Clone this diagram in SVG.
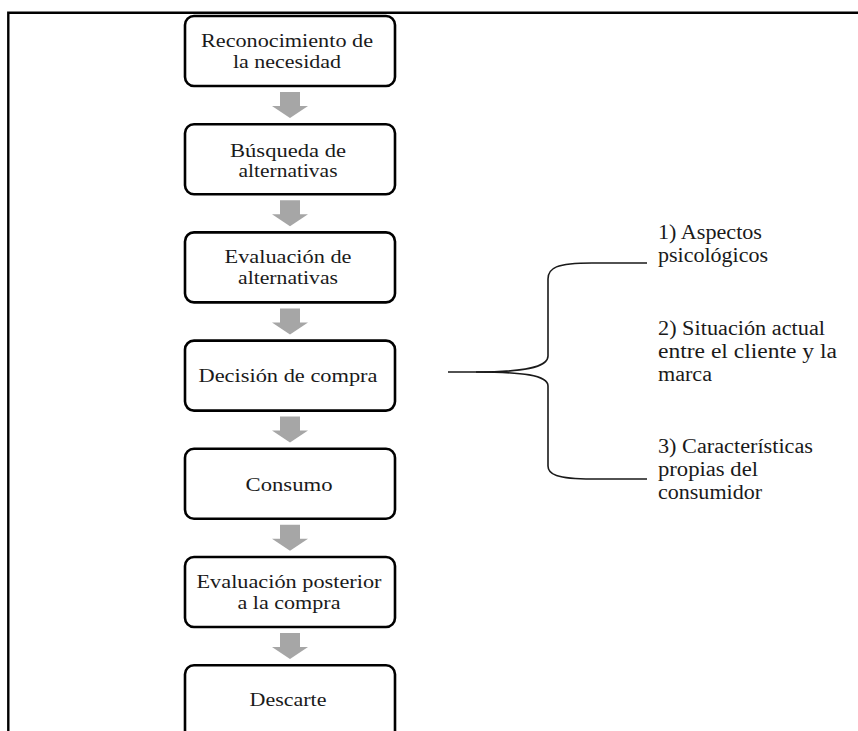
<svg xmlns="http://www.w3.org/2000/svg" width="858" height="731" viewBox="0 0 858 731">
  <style>
    .frame { fill: none; stroke: #000; stroke-width: 2.4; }
    .box rect { fill: #fff; stroke: #000; stroke-width: 2.6; }
    .box text, .label text { font-family: "Liberation Serif", "Times New Roman", serif; fill: #1a1a1a; }
    .box text { text-anchor: middle; font-size: 18.5px; }
    .label text { font-size: 20px; }
    .arrow { fill: #a6a6a6; }
    .brace { fill: none; stroke: #1a1a1a; stroke-width: 1.6; }
  </style>
  <defs>
    <!-- block arrow, top-left of shaft at origin, centred on x=0 -->
    <path id="blockArrow" d="M-10,0 H10 V14 H18 L0,26 L-18,14 H-10 Z"/>
  </defs>

  <rect width="858" height="731" fill="#fff"/>
  <!-- page frame (top and left rules) -->
  <path class="frame" d="M8.3,731 V12.8 H858"/>

  <g id="connectors">
    <use href="#blockArrow" class="arrow" x="290" y="92"/>
    <use href="#blockArrow" class="arrow" x="290" y="200.2"/>
    <use href="#blockArrow" class="arrow" x="290" y="308.4"/>
    <use href="#blockArrow" class="arrow" x="290" y="416.6"/>
    <use href="#blockArrow" class="arrow" x="290" y="524.8"/>
    <use href="#blockArrow" class="arrow" x="290" y="633"/>
    <!-- brace from the purchase decision to its three factors -->
    <path class="brace" d="M448,372 L476,372 C522,372 548,368 548,356 L548,279 C548,268 556,263 592,263 L647,263"/>
    <path class="brace" d="M476,372 C522,372 548,375 548,386 L548,466 C548,474 556,479 592,479 L647,479"/>
  </g>

  <g id="n1" class="box">
    <rect x="185" y="16" width="210" height="70" rx="9"/>
    <text x="287" y="47" textLength="172" lengthAdjust="spacingAndGlyphs">Reconocimiento de</text>
    <text x="287" y="67.5" textLength="108" lengthAdjust="spacingAndGlyphs">la necesidad</text>
  </g>
  <g id="n2" class="box">
    <rect x="185" y="124.2" width="210" height="70" rx="9"/>
    <text x="288" y="156.5" textLength="116" lengthAdjust="spacingAndGlyphs">Búsqueda de</text>
    <text x="288" y="177" textLength="99" lengthAdjust="spacingAndGlyphs">alternativas</text>
  </g>
  <g id="n3" class="box">
    <rect x="185" y="232.4" width="210" height="70" rx="9"/>
    <text x="288" y="263" textLength="127" lengthAdjust="spacingAndGlyphs">Evaluación de</text>
    <text x="288" y="283.5" textLength="100" lengthAdjust="spacingAndGlyphs">alternativas</text>
  </g>
  <g id="n4" class="box">
    <rect x="185" y="340.6" width="210" height="70" rx="9"/>
    <text x="288" y="382" textLength="179" lengthAdjust="spacingAndGlyphs">Decisión de compra</text>
  </g>
  <g id="n5" class="box">
    <rect x="185" y="448.8" width="210" height="70" rx="9"/>
    <text x="289" y="490.5" textLength="87" lengthAdjust="spacingAndGlyphs">Consumo</text>
  </g>
  <g id="n6" class="box">
    <rect x="185" y="557" width="210" height="70" rx="9"/>
    <text x="289" y="588" textLength="185" lengthAdjust="spacingAndGlyphs">Evaluación posterior</text>
    <text x="289" y="608.5" textLength="103" lengthAdjust="spacingAndGlyphs">a la compra</text>
  </g>
  <g id="n7" class="box">
    <rect x="185" y="665.2" width="210" height="80" rx="9"/>
    <text x="288" y="706" textLength="77" lengthAdjust="spacingAndGlyphs">Descarte</text>
  </g>

  <g id="f1" class="label">
    <text x="658" y="239" textLength="104" lengthAdjust="spacingAndGlyphs">1) Aspectos</text>
    <text x="658" y="262" textLength="110" lengthAdjust="spacingAndGlyphs">psicológicos</text>
  </g>
  <g id="f2" class="label">
    <text x="658" y="335" textLength="167" lengthAdjust="spacingAndGlyphs">2) Situación actual</text>
    <text x="658" y="358" textLength="179" lengthAdjust="spacingAndGlyphs">entre el cliente y  la</text>
    <text x="658" y="381" textLength="54" lengthAdjust="spacingAndGlyphs">marca</text>
  </g>
  <g id="f3" class="label">
    <text x="658" y="453" textLength="155" lengthAdjust="spacingAndGlyphs">3) Características</text>
    <text x="658" y="476" textLength="100" lengthAdjust="spacingAndGlyphs">propias del</text>
    <text x="658" y="499" textLength="104" lengthAdjust="spacingAndGlyphs">consumidor</text>
  </g>
</svg>
